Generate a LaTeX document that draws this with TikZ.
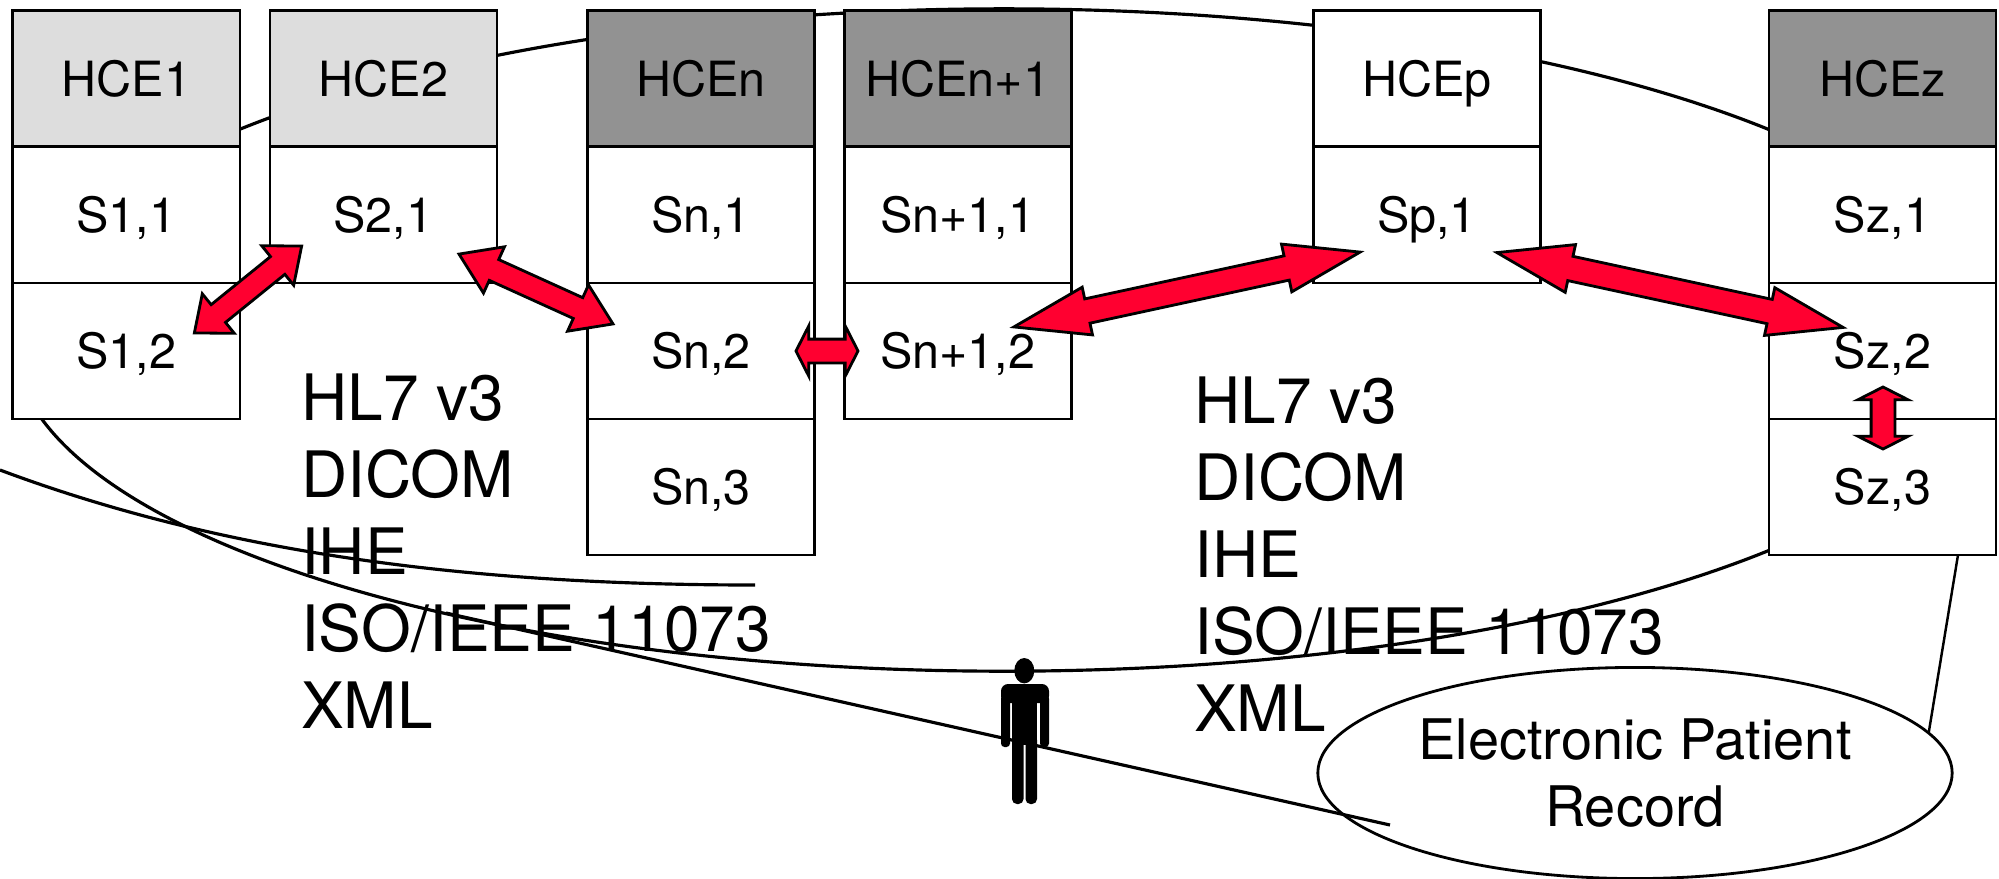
\documentclass[tikz,border=0pt]{standalone}
\usepackage{fontspec}
\setmainfont{TeX Gyre Heros}
\usepackage{tikz}
\usetikzlibrary{shapes.geometric,shapes.arrows}
\definecolor{hcelight}{RGB}{221,221,221}
\definecolor{hcedark}{RGB}{146,146,146}
\definecolor{linkred}{RGB}{255,0,48}
\tikzstyle{cell} = [rectangle, draw=black, fill=white, line width=0.8pt, minimum width=2.27cm, minimum height=1.36cm, inner sep=0pt, outer sep=0pt, text height=1.04em, text depth=0.04em, font=\fontsize{13.8}{16}\selectfont]
\tikzstyle{link} = [double arrow, draw=black, fill=linkred, line width=0.8pt, inner xsep=0pt]
\tikzstyle{longlink} = [link, inner ysep=0.11cm, minimum height=3.54cm, double arrow head extend=0.12cm, double arrow tip angle=36]
\tikzstyle{slantlink} = [link, inner ysep=0.1cm, double arrow head extend=0.14cm]
\tikzstyle{shortlink} = [link, inner ysep=0.105cm, minimum height=0.62cm, double arrow head extend=0.13cm, double arrow tip angle=126]
\tikzstyle{standards} = [align=left, anchor=north west, inner sep=0pt, font=\fontsize{18.2}{21.9}\selectfont]

\begin{document}
\begin{tikzpicture}[x=0.01cm, y=-0.01cm]
    \useasboundingbox (0, 0) rectangle (1999, 878);

    % Ring behind the columns
    \node[ellipse, draw, line width=0.9pt, minimum width=19.8cm, minimum height=6.62cm, inner sep=0pt] (ring) at (1004, 340) {};

    % Column HCE1
    \node[cell, fill=hcelight] (hce1) at (126.4, 78.5) {HCE1};
    \node[cell] (s11) at (126.4, 215) {S1,1};
    \node[cell] (s12) at (126.4, 351) {S1,2};

    % Column HCE2
    \node[cell, fill=hcelight] (hce2) at (383.5, 78.5) {HCE2};
    \node[cell] (s21) at (383.5, 215) {S2,1};

    % Column HCEn
    \node[cell, fill=hcedark] (hcen) at (701, 78.5) {HCEn};
    \node[cell] (sn1) at (701, 215) {Sn,1};
    \node[cell] (sn2) at (701, 351) {Sn,2};
    \node[cell] (sn3) at (701, 487) {Sn,3};

    % Column HCEn+1
    \node[cell, fill=hcedark] (hcem) at (957.7, 78.5) {HCEn+1};
    \node[cell] (sm1) at (957.7, 215) {Sn+1,1};
    \node[cell] (sm2) at (957.7, 351) {Sn+1,2};

    % Column HCEp
    \node[cell, fill=white] (hcep) at (1427, 78.5) {HCEp};
    \node[cell] (sp1) at (1427, 215) {Sp,1};

    % Column HCEz
    \node[cell, fill=hcedark] (hcez) at (1882.5, 78.5) {HCEz};
    \node[cell] (sz1) at (1882.5, 215) {Sz,1};
    \node[cell] (sz2) at (1882.5, 351) {Sz,2};
    \node[cell] (sz3) at (1882.5, 487) {Sz,3};

    % Standards
    \node[standards] (stdleft) at (300.5, 373) {HL7 v3\\DICOM\\IHE\\ISO/IEEE 11073\\XML};
    \node[standards] (stdright) at (1193.5, 376) {HL7 v3\\DICOM\\IHE\\ISO/IEEE 11073\\XML};

    % Patient record
    \node[ellipse, draw, line width=0.8pt, minimum width=6.34cm, minimum height=2.11cm, inner sep=0pt, align=center, font=\fontsize{15.9}{19.2}\selectfont] (epr) at (1635, 773) {Electronic Patient\\Record};
    \coordinate (szfoot) at (1958, 555);
    \draw[line width=0.7pt] (szfoot) -- (epr.8);

    % Lines across the lower left
    \coordinate (wirestart) at (0, 470);
    \coordinate (wireend) at (755, 585);
    \draw[line width=0.9pt] (wirestart) .. controls (230, 556) and (480, 585) .. (wireend);
    \coordinate (linestart) at (446, 613);
    \coordinate (lineend) at (1390, 825);
    \draw[line width=0.9pt] (linestart) -- (lineend);

    % Person
    \fill (1024.3, 670.7) ellipse (10 and 12.7);
    \fill[rounded corners=2pt] (1001, 684) rectangle (1049, 703);
    \fill[rounded corners=1pt] (1001, 695) rectangle (1010, 747);
    \fill[rounded corners=1pt] (1040, 695) rectangle (1049, 747);
    \fill (1012, 690) rectangle (1037, 745);
    \fill[rounded corners=1.4pt] (1012, 735) rectangle (1023.5, 804);
    \fill[rounded corners=1.4pt] (1025.5, 735) rectangle (1037, 804);

    % Links
    \node[slantlink, minimum height=1.38cm, double arrow tip angle=79, rotate=39] (link1) at (248, 289.5) {};
    \node[slantlink, minimum height=1.69cm, double arrow tip angle=67, rotate=-24.4] (link2) at (536, 289) {};
    \node[shortlink] (link3) at (827, 351) {};
    \node[longlink, rotate=12.2] (link4) at (1187, 289.5) {};
    \node[longlink, rotate=-12.2] (link5) at (1670, 290) {};
    \node[shortlink, rotate=90] (link6) at (1883, 418) {};
\end{tikzpicture}
\end{document}
